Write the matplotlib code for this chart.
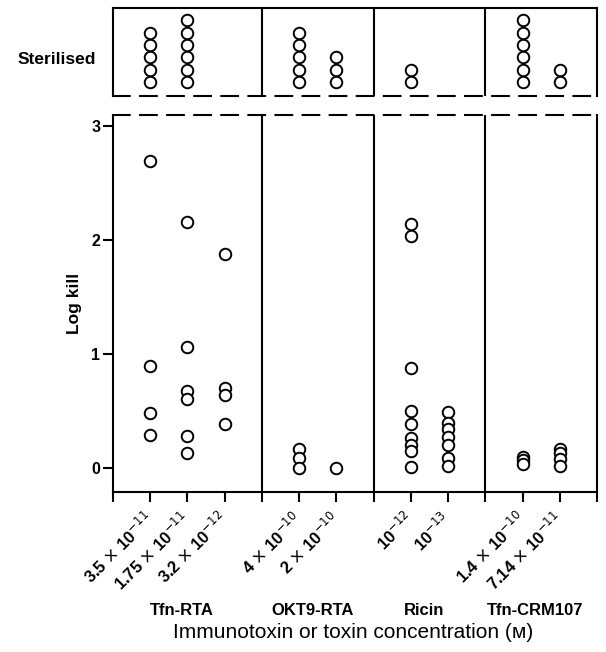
import matplotlib
matplotlib.use("Agg")
import matplotlib.pyplot as plt
import matplotlib.transforms as mtrans
import numpy as np

plt.rcParams['font.family'] = ['Liberation Sans', 'DejaVu Sans']

# ---- data ----
groups = ["Tfn-RTA", "OKT9-RTA", "Ricin", "Tfn-CRM107"]
concentrations = [
    r"3.5 $\times$ 10$^{-11}$", r"1.75 $\times$ 10$^{-11}$", r"3.2 $\times$ 10$^{-12}$",
    r"4 $\times$ 10$^{-10}$", r"2 $\times$ 10$^{-10}$",
    r"10$^{-12}$", r"10$^{-13}$",
    r"1.4 $\times$ 10$^{-10}$", r"7.14 $\times$ 10$^{-11}$",
]
column_group = [0, 0, 0, 1, 1, 2, 2, 3, 3]
log_kill = [
    [2.70, 0.90, 0.48, 0.29],
    [2.16, 1.06, 0.68, 0.61, 0.28, 0.13],
    [1.88, 0.70, 0.64, 0.39],
    [0.17, 0.09, 0.00],
    [0.00],
    [2.14, 2.04, 0.88, 0.50, 0.39, 0.26, 0.20, 0.15, 0.01],
    [0.49, 0.40, 0.34, 0.27, 0.20, 0.09, 0.02],
    [0.10, 0.07, 0.04],
    [0.17, 0.13, 0.08, 0.02],
]
sterilised_counts = [5, 6, 0, 5, 3, 2, 0, 6, 2]
y_ticks = [0, 1, 2, 3]

# column positions: group blocks separated by a gap unit
col_pos = []
dividers = []
x = 0
for g in range(len(groups)):
    n = column_group.count(g)
    for i in range(n):
        x += 1
        col_pos.append(x)
    x += 1
    dividers.append(x)
xmax = dividers[-1]
dividers = dividers[:-1]

fig = plt.figure(figsize=(6.06, 6.52), dpi=100)
ax = fig.add_axes([113/606, 1-492/652, 484/606, (492-115)/652])
axt = fig.add_axes([113/606, 1-96/652, 484/606, (96-8)/652])

lw = 1.5
mk = dict(marker='o', linestyle='none', markersize=8.3, markerfacecolor='white',
          markeredgecolor='black', markeredgewidth=1.4, clip_on=False)

for xp, vals in zip(col_pos, log_kill):
    ax.plot([xp]*len(vals), vals, **mk)

for xp, c in zip(col_pos, sterilised_counts):
    if c:
        axt.plot([xp]*c, np.arange(1, c+1), **mk)

for a in (ax, axt):
    a.set_xlim(0, xmax)
    for d in dividers:
        a.axvline(d, color='black', lw=lw)
    for s in a.spines.values():
        s.set_linewidth(lw)

ax.set_ylim(-0.21, 3.1)
axt.set_ylim(-0.14, 7.01)

ax.spines['top'].set_linestyle((0, (8, 5)))
axt.spines['bottom'].set_linestyle((0, (8, 5)))

axt.set_xticks([])
axt.set_yticks([])
fig.text(57/606, 1-59/652, "Sterilised", ha='center', va='center',
         fontsize=12.5, fontweight='bold')

ax.set_yticks(y_ticks)
ax.set_yticklabels([str(t) for t in y_ticks], fontsize=11.5, fontweight='bold')
ax.tick_params(axis='y', direction='out', length=7, width=lw, pad=2)

ax.set_xticks(np.arange(0, xmax+1))
labels = [''] * (xmax+1)
for xp, lab in zip(col_pos, concentrations):
    labels[xp] = lab
ax.set_xticklabels(labels, rotation=45, ha='right', rotation_mode='anchor',
                   fontsize=12, fontweight='bold')
ax.tick_params(axis='x', direction='out', length=7, width=lw, pad=5)
shift = mtrans.ScaledTranslation(-7/100, 0, fig.dpi_scale_trans)
for lbl in ax.get_xticklabels():
    lbl.set_transform(lbl.get_transform() + shift)

ax.set_ylabel("Log kill", fontsize=12.5, fontweight='bold', labelpad=7)

# group labels
blend = mtrans.blended_transform_factory(ax.transData, fig.transFigure)
for g, name in enumerate(groups):
    xs = [p for p, cg in zip(col_pos, column_group) if cg == g]
    xc = (min(xs) + max(xs)) / 2
    ax.text(xc - 0.15, 0.064, name, transform=blend,
            ha='center', va='center', fontsize=12, fontweight='bold')

fig.text(353/606, 1-633/652, "Immunotoxin or toxin concentration (ᴍ)", ha='center', va='center',
         fontsize=15)

fig.savefig("out.png", dpi=100)
